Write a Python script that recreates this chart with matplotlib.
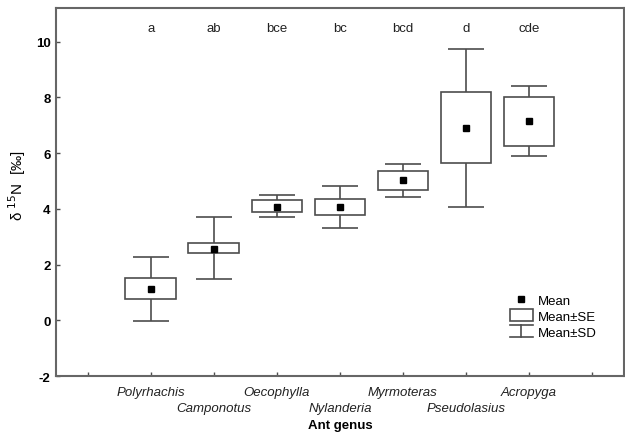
import numpy as np
import matplotlib
matplotlib.use("Agg")
import matplotlib.pyplot as plt
from matplotlib.lines import Line2D
from matplotlib.patches import Patch
from matplotlib.legend_handler import HandlerBase

plt.rcParams['font.family'] = ['Liberation Sans', 'DejaVu Sans']

# values
genera = ["Polyrhachis", "Camponotus", "Oecophylla", "Nylanderia",
          "Myrmoteras", "Pseudolasius", "Acropyga"]
letters = ["a", "ab", "bce", "bc", "bcd", "d", "cde"]
means = [1.11, 2.57, 4.08, 4.06, 5.04, 6.90, 7.14]
se_lo = [0.75, 2.40, 3.88, 3.79, 4.68, 5.63, 6.25]
se_hi = [1.50, 2.77, 4.31, 4.36, 5.36, 8.18, 8.02]
sd_lo = [-0.02, 1.49, 3.70, 3.31, 4.44, 4.08, 5.88]
sd_hi = [2.26, 3.69, 4.50, 4.83, 5.62, 9.74, 8.42]

edge = "#4d4d4d"

class HandlerSD(HandlerBase):
    def create_artists(self, legend, orig_handle, xdescent, ydescent,
                       width, height, fontsize, trans):
        x0 = -xdescent
        x1 = x0 + width
        y0 = -ydescent
        y1 = y0 + height
        xm = (x0 + x1) / 2
        kw = dict(color=edge, lw=1.2, transform=trans)
        return [Line2D([x0, x1], [y1, y1], **kw),
                Line2D([xm, xm], [y0, y1], **kw),
                Line2D([x0, x1], [y0, y0], **kw)]

fig = plt.figure(figsize=(6.25, 4.35), dpi=100)
ax = fig.add_axes([0.0896, 0.1333, 0.9084, 0.8457])

x = np.arange(1, len(genera) + 1)
means = np.array(means)
lo_err = means - np.array(sd_lo)
hi_err = np.array(sd_hi) - means

ax.errorbar(x, means, yerr=[lo_err, hi_err], fmt='none', ecolor=edge,
            elinewidth=1.2, capsize=13, capthick=1.2, zorder=1)
ax.bar(x, np.array(se_hi) - np.array(se_lo), bottom=se_lo, width=0.8,
       facecolor="white", edgecolor=edge, linewidth=1.2, zorder=2)
ax.plot(x, means, 's', color="black", markersize=4.5, zorder=3)

for xi, lab in zip(x, letters):
    ax.text(xi, 10.5, lab, ha="center", va="center", fontsize=9.5, color="#222222")

ax.set_xlim(-0.5, 8.5)
ax.set_ylim(-2, 11.2)
ax.set_yticks(np.arange(-2, 11, 2))
ax.set_yticklabels([str(v) for v in range(-2, 11, 2)], fontweight="bold", fontsize=9.5)

# odd genera on the major ticks, even genera one row lower on minor ticks
ax.xaxis.remove_overlapping_locs = False
major_labels = [""] * 9
for i, g in enumerate(genera):
    if i % 2 == 0:
        major_labels[i + 1] = g
ax.set_xticks(np.arange(0, 9))
ax.set_xticklabels(major_labels, fontstyle="italic", fontsize=9.5, color="#222222")
ax.set_xticks(x[1::2], minor=True)
ax.set_xticklabels(genera[1::2], minor=True, fontstyle="italic", fontsize=9.5,
                   color="#222222")

ax.tick_params(direction="in", length=3, color=edge, width=1)
ax.tick_params(axis="x", which="major", pad=7)
ax.tick_params(axis="x", which="minor", length=0, pad=19)
ax.tick_params(axis="y", pad=4)
for s in ax.spines.values():
    s.set_color("#666666")
    s.set_linewidth(1.5)

ax.set_xlabel("Ant genus", fontweight="bold", fontsize=9.5, labelpad=3)
ax.set_ylabel("δ $^{15}$N  [‰]", fontsize=11)
ax.yaxis.set_label_coords(-0.05, 0.52)

sd_handle = Line2D([], [])
handles = [Line2D([], [], marker='s', color='black', linestyle='none', markersize=4.5),
           Patch(facecolor="white", edgecolor=edge, linewidth=1.2),
           sd_handle]
ax.legend(handles, ["Mean", "Mean±SE", "Mean±SD"], loc="upper left",
          bbox_to_anchor=(0.779, 0.257), frameon=False, fontsize=9.5,
          handlelength=1.7, handleheight=1.0, labelspacing=0.2,
          handletextpad=0.4, handler_map={sd_handle: HandlerSD()})

fig.savefig("out.png", dpi=100)
